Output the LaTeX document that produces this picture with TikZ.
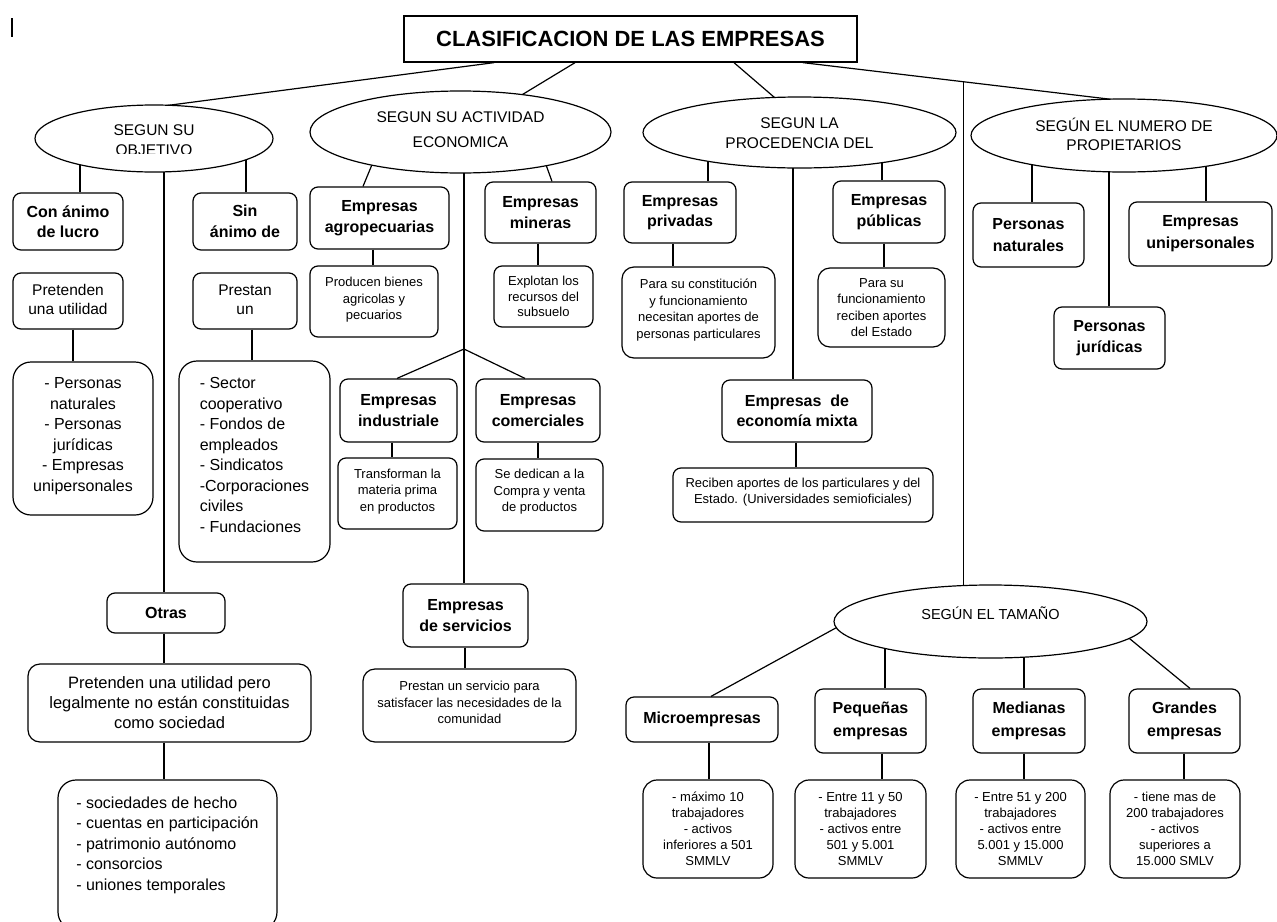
\documentclass[tikz,border=0pt]{standalone}
\usepackage{fontspec}
\setmainfont{Liberation Sans}
\usetikzlibrary{calc,backgrounds,shapes.geometric}
\tikzset{
 box/.style={draw=black,line width=1.2pt,rounded corners=8pt,fill=white,inner sep=0pt,align=center},
 bigbox/.style={box,rounded corners=18pt},
 titlebox/.style={draw=black,line width=1.3pt,fill=white,inner sep=0pt,font=\fontsize{22}{26}\selectfont\bfseries},
 oval/.style={ellipse,draw=black,line width=1.2pt,fill=white,inner sep=0pt},
 conn/.style={draw=black,line width=1.2pt},
 hfont/.style={font=\fontsize{16}{20.5}\selectfont\bfseries},
 mfont/.style={font=\fontsize{16}{23}\selectfont\bfseries},
 rfont/.style={font=\fontsize{15.5}{19}\selectfont},
 lfont/.style={font=\fontsize{16}{20.5}\selectfont},
 ofont/.style={font=\fontsize{16.5}{20}\selectfont},
 sfont/.style={font=\fontsize{13}{16.5}\selectfont},
 dfont/.style={font=\fontsize{13}{16}\selectfont},
 efont/.style={font=\fontsize{15.5}{20}\selectfont,align=center},
}
\newcommand\mkbox[7][]{\node[box,#1,minimum width={#5-#3},minimum height={#6-#4}] (#2) at ({(#3+#5)/2},{(#4+#6)/2}) {#7};}
\newcommand\mkboxt[8][]{\node[box,#1,minimum width={#5-#3},minimum height={#6-#4}] (#2) at ({(#3+#5)/2},{(#4+#6)/2}) {};
 \node[box,#1,draw=none,fill=none,minimum width=0pt,minimum height=0pt] (#2t) at ({(#3+#5)/2},{(#4+#6)/2-#7}) {#8};}
\begin{document}
\begin{tikzpicture}[x=1pt,y=-1pt]
\useasboundingbox (0,0) rectangle (1277,921);

% title
\node[titlebox,minimum width=453,minimum height=46] (title) at (630.5,39) {CLASIFICACION DE LAS EMPRESAS};
\draw[line width=1.2pt] (12,18) -- (12,37);

% ellipses
\node[oval,minimum width=238,minimum height=67] (e1) at (154,138.5) {};
\begin{scope}
\clip (40,110) rectangle (270,153);
\node[efont] (e1t) at (154,140) {SEGUN SU\\OBJETIVO};
\end{scope}
\node[oval,minimum width=301,minimum height=82,
  label={[efont,font=\fontsize{15.5}{25}\selectfont,yshift=2.5pt]center:SEGUN SU ACTIVIDAD\\ECONOMICA}] (e2) at (460.5,132) {};
\node[oval,minimum width=313,minimum height=71,
  label={[efont,yshift=-0.5pt]center:SEGUN LA\\PROCEDENCIA DEL}] (e3) at (799.5,132.5) {};
\node[oval,minimum width=306,minimum height=73,
  label={[efont,font=\fontsize{15.5}{19}\selectfont,yshift=1pt]center:SEGÚN EL NUMERO DE\\PROPIETARIOS}] (e4) at (1124,135.5) {};
\node[oval,minimum width=313,minimum height=73,
  label={[efont,font=\fontsize{14.5}{18}\selectfont,yshift=8.5pt]center:SEGÚN EL TAMAÑO}] (e5) at (990.5,621.5) {};

% objetivo
\mkbox[hfont]{conanimo}{13}{193}{123}{250}{Con ánimo\\de lucro}
\mkbox[hfont]{sinanimo}{193}{193}{297}{250}{Sin\\ánimo de}
\mkboxt[rfont]{pretenden}{13}{273}{123}{329}{2}{Pretenden\\una utilidad}
\mkboxt[rfont]{prestan}{193}{273}{297}{329}{1.5}{Prestan\\un}
\mkboxt[lfont,bigbox]{personas}{13}{362}{153}{515}{2.5}{- Personas\\naturales\\- Personas\\jurídicas\\- Empresas\\unipersonales}
\mkboxt[lfont,bigbox,align=left]{sector}{179}{361}{330}{562}{6.5}{- Sector\\cooperativo\\- Fondos de\\empleados\\- Sindicatos\\-Corporaciones\\civiles\\- Fundaciones}
\mkbox[hfont]{otras}{107}{593}{225}{633}{Otras}
\mkbox[ofont,rounded corners=12pt]{otrasdesc}{28}{664}{311}{742}{Pretenden una utilidad pero\\legalmente no están constituidas\\como sociedad}
\mkbox[bigbox]{socbox}{58}{780}{277}{930}{}
\node[lfont,align=left] (soctext) at (167.5,845) {- sociedades de hecho\\- cuentas en participación\\- patrimonio autónomo\\- consorcios\\- uniones temporales};

% actividad economica
\mkbox[hfont]{agro}{310}{187}{449}{249}{Empresas\\agropecuarias}
\mkbox[hfont]{mineras}{485}{182}{596}{243}{Empresas\\mineras}
\mkboxt[sfont]{producen}{310}{266}{438}{337}{1.5}{Producen bienes\\agricolas y\\pecuarios}
\mkbox[sfont,font=\fontsize{13}{15.5}\selectfont]{explotan}{494}{266}{593}{327}{Explotan los\\recursos del\\subsuelo}
\mkbox[hfont]{industriale}{340}{379}{457}{442}{Empresas\\industriale}
\mkboxt[sfont]{transforman}{338}{458}{457}{529}{2}{Transforman la\\materia prima\\en productos}
\mkbox[hfont]{comerciales}{476}{379}{600}{442}{Empresas\\comerciales}
\mkboxt[sfont]{sededican}{476}{459}{603}{531}{3}{Se dedican a la\\Compra y venta\\de productos}
\mkbox[hfont]{servicios}{403}{584}{528}{647}{Empresas\\de servicios}
\mkboxt[sfont,rounded corners=12pt]{prestanserv}{363}{669}{576}{742}{3}{Prestan un servicio para\\satisfacer las necesidades de la\\comunidad}

% procedencia
\mkbox[hfont]{privadas}{624}{182}{736}{243}{Empresas\\privadas}
\mkbox[hfont]{publicas}{833}{181}{945}{243}{Empresas\\públicas}
\mkboxt[sfont,rounded corners=12pt]{constitucion}{622}{267}{775}{358}{2.5}{Para su constitución\\y funcionamiento\\necesitan aportes de\\personas particulares}
\mkbox[sfont,rounded corners=12pt]{funcionamiento}{818}{268}{945}{347}{Para su\\funcionamiento\\reciben aportes\\del Estado}
\mkbox[hfont]{mixta}{722}{380}{872}{442}{Empresas\ \ de\\economía mixta}
\mkboxt[sfont]{reciben}{673}{468}{933}{522}{3}{Reciben aportes de los particulares y del\\Estado. (Universidades semioficiales)}

% propietarios
\mkbox[hfont,font=\fontsize{16}{21.5}\selectfont\bfseries]{naturales}{973}{203}{1084}{267}{Personas\\naturales}
\mkbox[hfont,font=\fontsize{16}{22}\selectfont\bfseries]{unipers}{1129}{202}{1272}{266}{Empresas\\unipersonales}
\mkbox[hfont]{juridicas}{1054}{307}{1165}{369}{Personas\\jurídicas}

% tamano
\mkbox[hfont]{micro}{626}{697}{778}{742}{Microempresas}
\mkbox[mfont]{pequenas}{815}{689}{926}{753}{Pequeñas\\empresas}
\mkbox[mfont]{medianas}{973}{689}{1085}{753}{Medianas\\empresas}
\mkbox[mfont]{grandes}{1129}{689}{1240}{753}{Grandes\\empresas}
\mkbox[dfont,rounded corners=14pt]{d1}{643}{780}{773}{878}{- máximo 10\\trabajadores\\- activos\\inferiores a 501\\SMMLV}
\mkbox[dfont,rounded corners=14pt]{d2}{795}{780}{926}{878}{- Entre 11 y 50\\trabajadores\\- activos entre\\501 y 5.001\\SMMLV}
\mkbox[dfont,rounded corners=14pt]{d3}{956}{780}{1085}{878}{- Entre 51 y 200\\trabajadores\\- activos entre\\5.001 y 15.000\\SMMLV}
\mkbox[dfont,rounded corners=14pt]{d4}{1110}{780}{1240}{878}{- tiene mas de\\200 trabajadores\\- activos\\superiores a\\15.000 SMLV}

\begin{pgfonlayer}{background}
\fill[white] (0,0) rectangle (1277,921);
% from title
\draw[conn] (title.south -| 494,0) -- ($(e1.center)+(2.4,-31.6)$);
\draw[conn] (title.south -| 575,0) -- ($(e2.center)+(56.2,-34)$);
\draw[conn] (title.south -| 734,0) -- ($(e3.center)+(-21.5,-32)$);
\coordinate (t4a) at (title.south -| 803,0);
\coordinate (t4b) at ($(e4.center)+(-3,-35)$);
\draw[conn] (t4a) -- (t4b);
\coordinate (jn) at ($(t4a)!0.505!(t4b)$);
\draw[conn] (jn) -- (e5.center -| jn);
% objetivo
\draw[conn] (e1.center -| 80,0) -- (conanimo.north -| 80,0);
\draw[conn] (e1.center -| 164,0) -- (otras.north -| 164,0);
\draw[conn] (e1.center -| 246,0) -- (sinanimo.north -| 246,0);
\draw[conn] (pretenden.south -| 73,0) -- (personas.north -| 73,0);
\draw[conn] (prestan.south -| 252,0) -- (sector.north -| 252,0);
\draw[conn] (otras.south -| 164,0) -- (otrasdesc.north -| 164,0);
\draw[conn] (otrasdesc.south -| 164,0) -- (socbox.north -| 164,0);
% actividad
\draw[conn] ($(e2.center)+(-85.8,26.1)$) -- ($(agro.north)+(-16.5,0)$);
\draw[conn] ($(e2.center)+(83.5,27.3)$) -- ($(mineras.north)+(11.5,0)$);
\coordinate (br) at (464,349);
\draw[conn] (e2.center -| br) -- (servicios.north -| br);
\draw[conn] (br) -- ($(industriale.north)+(-1.5,0)$);
\draw[conn] (br) -- ($(comerciales.north)+(-13,0)$);
\draw[conn] (agro.south -| 373,0) -- (producen.north -| 373,0);
\draw[conn] (mineras.south -| 538,0) -- (explotan.north -| 538,0);
\draw[conn] (industriale.south -| 392,0) -- (transforman.north -| 392,0);
\draw[conn] (comerciales.south -| 538,0) -- (sededican.north -| 538,0);
\draw[conn] (servicios.south -| 465,0) -- (prestanserv.north -| 465,0);
% procedencia
\draw[conn] (e3.center -| 708,0) -- (privadas.north -| 708,0);
\draw[conn] (e3.center -| 793,0) -- (mixta.north -| 793,0);
\draw[conn] (e3.center -| 882,0) -- (publicas.north -| 882,0);
\draw[conn] (privadas.south -| 673,0) -- (constitucion.north -| 673,0);
\draw[conn] (publicas.south -| 884,0) -- (funcionamiento.north -| 884,0);
\draw[conn] (mixta.south -| 796,0) -- (reciben.north -| 796,0);
% propietarios
\draw[conn] (e4.center -| 1032,0) -- (naturales.north -| 1032,0);
\draw[conn] (e4.center -| 1109,0) -- (juridicas.north -| 1109,0);
\draw[conn] (e4.center -| 1206,0) -- (unipers.north -| 1206,0);
% tamano
\draw[conn] ($(e5.center)+(-144.2,0.7)$) -- ($(micro.north)+(9,0)$);
\draw[conn] (e5.center -| 885,0) -- (pequenas.north -| 885,0);
\draw[conn] (e5.center -| 1024,0) -- (medianas.north -| 1024,0);
\draw[conn] ($(e5.center)+(133.5,12.5)$) -- ($(grandes.north)+(5.5,0)$);
\draw[conn] (micro.south -| 709,0) -- (d1.north -| 709,0);
\draw[conn] (pequenas.south -| 882,0) -- (d2.north -| 882,0);
\draw[conn] (medianas.south -| 1024,0) -- (d3.north -| 1024,0);
\draw[conn] (grandes.south -| 1184,0) -- (d4.north -| 1184,0);
\end{pgfonlayer}
\end{tikzpicture}
\end{document}
